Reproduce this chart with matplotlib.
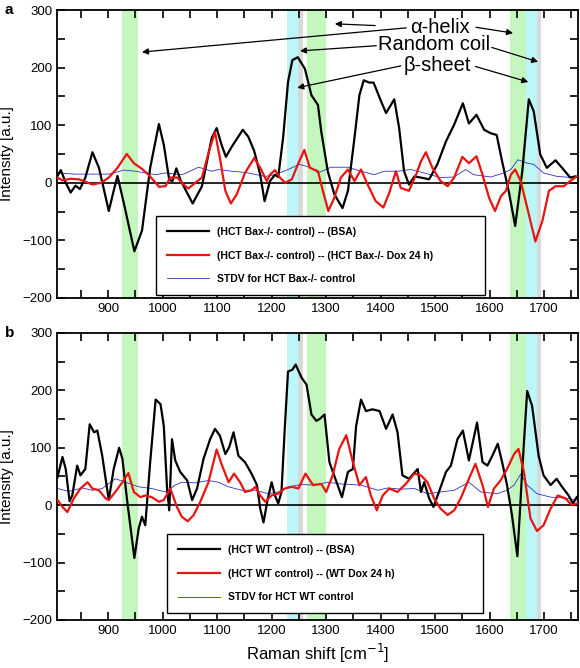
import matplotlib
matplotlib.use('Agg')
import matplotlib.pyplot as plt
from matplotlib.ticker import MultipleLocator

plt.rcParams['font.family'] = ['Liberation Sans', 'DejaVu Sans']

# ---- panel a : HCT Bax-/- ----
a_bsa_x = [807, 813, 822, 831, 840, 848, 858, 871, 883, 901, 910, 917, 929, 948, 962, 977, 993, 1002,
           1012, 1018, 1025, 1033, 1055, 1072, 1090, 1099, 1108, 1116, 1127, 1147, 1157, 1168, 1179, 1187,
           1197, 1206, 1212, 1221, 1230, 1238, 1248, 1261, 1273, 1285, 1291, 1303, 1315, 1330, 1340, 1352,
           1361, 1369, 1379, 1387, 1401, 1410, 1425, 1434, 1443, 1452, 1462, 1474, 1489, 1504, 1520, 1535,
           1551, 1562, 1576, 1590, 1602, 1613, 1623, 1635, 1647, 1660, 1672, 1681, 1693, 1705, 1721, 1733,
           1748, 1757]
a_bsa_y = [12, 22, 0, -17, -5, -11, 9, 53, 26, -49, -14, 12, -37, -119, -83, 26, 102, 66,
           5, 3, 25, 4, -36, -6, 78, 95, 66, 45, 63, 92, 80, 55, 14, -32,
           3, 14, 10, 78, 175, 213, 218, 198, 152, 135, 89, 20, -20, -44, -14, 78,
           152, 178, 174, 174, 141, 121, 145, 95, 20, -3, 11, 9, 6, 32, 72, 101,
           138, 103, 118, 92, 86, 83, 37, -14, -75, 20, 145, 124, 49, 26, 39, 26,
           9, 11]

a_dox_x = [807, 816, 831, 846, 855, 871, 887, 901, 917, 934, 947, 962, 974, 987, 993, 1005, 1014, 1027,
           1038, 1047, 1060, 1072, 1085, 1096, 1105, 1115, 1125, 1136, 1151, 1168, 1179, 1191, 1197, 1206,
           1215, 1225, 1237, 1249, 1260, 1270, 1285, 1294, 1304, 1315, 1327, 1340, 1352, 1364, 1376, 1391,
           1405, 1416, 1428, 1437, 1452, 1465, 1474, 1483, 1495, 1510, 1523, 1535, 1550, 1562, 1576, 1587,
           1599, 1610, 1621, 1630, 1639, 1647, 1657, 1669, 1684, 1697, 1709, 1721, 1736, 1748, 1760]
a_dox_y = [9, 4, 7, 6, 3, -3, 0, 9, 26, 50, 34, 24, 14, 0, -7, -6, 9, 9,
           -3, -10, 0, 9, 55, 88, 43, -14, -36, -20, 17, 43, 26, 3, 14, 22,
           9, 0, 6, 34, 57, 26, 20, -14, -49, -26, 9, 23, 3, 23, -3, -32,
           -43, -17, 20, -9, -14, 14, 37, 53, 26, 3, -6, 9, 45, 34, 46, 14,
           -26, -49, -23, -14, 14, 23, 3, -43, -102, -66, -14, -6, -6, 3, 11]

a_std_x = [807, 840, 870, 901, 929, 950, 987, 1005, 1036, 1066, 1090, 1102, 1127, 1151, 1188, 1206, 1230,
           1251, 1273, 1285, 1309, 1340, 1364, 1388, 1407, 1431, 1455, 1480, 1510, 1535, 1556, 1571, 1602,
           1626, 1639, 1652, 1669, 1681, 1699, 1724, 1754]
a_std_y = [17, 15, 15, 15, 22, 20, 14, 17, 14, 27, 20, 23, 20, 18, 11, 14, 23,
           32, 26, 17, 27, 27, 20, 14, 20, 20, 23, 17, 9, 10, 23, 14, 10,
           17, 23, 40, 34, 32, 17, 11, 9]

# ---- panel b : HCT WT ----
b_bsa_x = [807, 816, 822, 829, 834, 843, 849, 858, 866, 874, 880, 889, 901, 910, 920, 926, 935, 948, 956,
           962, 968, 977, 987, 996, 1002, 1008, 1012, 1017, 1023, 1032, 1045, 1054, 1063, 1075, 1087, 1096,
           1105, 1115, 1122, 1130, 1139, 1151, 1163, 1173, 1179, 1185, 1193, 1200, 1206, 1212, 1218, 1224,
           1230, 1238, 1244, 1255, 1264, 1273, 1282, 1288, 1297, 1306, 1318, 1329, 1340, 1349, 1355, 1364,
           1373, 1385, 1398, 1410, 1422, 1431, 1440, 1452, 1468, 1474, 1480, 1489, 1497, 1507, 1520, 1529,
           1541, 1551, 1562, 1577, 1587, 1596, 1605, 1615, 1623, 1632, 1641, 1651, 1660, 1669, 1678, 1690,
           1699, 1712, 1723, 1733, 1745, 1753, 1760]
b_bsa_y = [49, 84, 63, 7, 17, 69, 52, 63, 141, 127, 130, 86, 9, 63, 100, 81, 6, -92, -40,
           -20, -35, 75, 184, 176, 138, 29, -9, 115, 78, 58, 43, 9, 29, 81, 115, 133,
           121, 89, 101, 127, 86, 75, 55, 35, -6, -30, 12, 40, 17, 3, 23, 133,
           233, 236, 245, 222, 210, 158, 147, 150, 158, 75, 43, 14, 58, 63, 138, 184,
           164, 167, 164, 133, 158, 127, 52, 46, 63, 23, 40, 12, -3, 23, 58, 69,
           115, 130, 78, 144, 75, 69, 86, 107, 75, 35, -17, -89, 63, 199, 173, 86,
           52, 35, 46, 32, 17, 3, 14]

b_dox_x = [807, 816, 825, 837, 849, 862, 871, 883, 895, 901, 913, 926, 937, 947, 959, 968, 980, 993, 1002,
           1014, 1026, 1035, 1046, 1057, 1069, 1084, 1099, 1109, 1121, 1131, 1142, 1151, 1163, 1170, 1179,
           1188, 1200, 1212, 1224, 1237, 1249, 1262, 1276, 1291, 1300, 1312, 1324, 1337, 1349, 1361, 1373,
           1382, 1393, 1404, 1416, 1431, 1446, 1462, 1474, 1486, 1498, 1510, 1523, 1535, 1547, 1562, 1574,
           1587, 1597, 1608, 1620, 1632, 1645, 1653, 1663, 1675, 1687, 1699, 1712, 1725, 1739, 1751, 1760]
b_dox_y = [9, -3, -12, 12, 29, 40, 29, 26, 12, 9, 23, 40, 56, 23, 14, 17, 14, 6, 9,
           29, -3, -20, -28, -17, 6, 40, 97, 69, 40, 55, 40, 23, 26, 32, 17,
           6, 17, 20, 29, 32, 29, 55, 35, 37, 23, 52, 98, 122, 75, 35, 49,
           17, -9, 17, 29, 23, 37, 55, 52, 40, 12, -6, -17, -9, 12, 46, 72,
           35, -3, 29, 43, 63, 89, 98, 58, -23, -45, -35, -6, 17, 12, 0, 3]

b_std_x = [807, 828, 852, 871, 889, 913, 932, 956, 980, 1005, 1023, 1035, 1060, 1084, 1102, 1121, 1145,
           1170, 1194, 1212, 1230, 1255, 1279, 1303, 1327, 1364, 1395, 1413, 1437, 1462, 1486, 1510, 1535,
           1562, 1584, 1614, 1632, 1645, 1657, 1669, 1687, 1712, 1742, 1760]
b_std_y = [29, 24, 30, 26, 29, 46, 40, 32, 29, 23, 35, 40, 39, 43, 40, 32, 26,
           26, 20, 23, 32, 36, 35, 40, 37, 35, 26, 30, 28, 29, 20, 23, 26,
           40, 23, 20, 26, 35, 54, 35, 20, 14, 12, 9]

# shaded regions (start, end, colour)
bands = [(925, 955, '#c4f7bd'), (1228, 1249, '#bdf6f8'), (1249, 1257, '#d9d9d9'),
         (1265, 1300, '#c4f7bd'), (1637, 1667, '#c4f7bd'), (1667, 1687, '#bdf6f8'),
         (1687, 1695, '#d9d9d9')]

labels_a = ['(HCT Bax-/- control) -- (BSA)', '(HCT Bax-/- control) -- (HCT Bax-/- Dox 24 h)',
            'STDV for HCT Bax-/- control']
labels_b = ['(HCT WT control) -- (BSA)', '(HCT WT control) -- (WT Dox 24 h)',
            'STDV for HCT WT control']

fig = plt.figure(figsize=(5.8, 6.68), dpi=100)
ax1 = fig.add_axes([0.0983, 0.554, 0.898, 0.431])
ax2 = fig.add_axes([0.0983, 0.0719, 0.898, 0.4296])


def draw_panel(ax, bsa, dox, std, labels, leg_box):
    for x0, x1, c in bands:
        ax.axvspan(x0, x1, color=c, lw=0, zorder=0)
    ax.axhline(0, color='black', lw=1.2, zorder=1)
    l1, = ax.plot(bsa[0], bsa[1], color='black', lw=1.6, zorder=3, solid_joinstyle='round')
    l2, = ax.plot(dox[0], dox[1], color='#e8140f', lw=1.6, zorder=4, solid_joinstyle='round')
    l3, = ax.plot(std[0], std[1], color='#3030c0', lw=0.6, zorder=2)
    ax.set_xlim(806, 1762)
    ax.set_ylim(-200, 300)
    ax.xaxis.set_major_locator(MultipleLocator(100))
    ax.xaxis.set_minor_locator(MultipleLocator(50))
    ax.yaxis.set_major_locator(MultipleLocator(100))
    ax.yaxis.set_minor_locator(MultipleLocator(50))
    ax.tick_params(which='both', direction='in', top=True, right=True, labelsize=9.5, width=1.2, length=6)
    for s in ax.spines.values():
        s.set_linewidth(1.3)
    ax.set_ylabel('Intensity [a.u.]', fontsize=11)
    ax.yaxis.set_label_coords(-0.083, 0.5)
    leg = ax.legend([l1, l2, l3], labels, loc='lower left', bbox_to_anchor=leg_box, mode='expand',
                    prop={'weight': 'bold', 'size': 7.5}, frameon=True, fancybox=False,
                    edgecolor='black', framealpha=1, handlelength=4.0, handletextpad=0.8,
                    labelspacing=1.3, borderpad=1.05, borderaxespad=0)
    leg.get_frame().set_linewidth(1.0)


draw_panel(ax1, (a_bsa_x, a_bsa_y), (a_dox_x, a_dox_y), (a_std_x, a_std_y), labels_a,
           (0.19, 0.010, 0.631, 0.28))
draw_panel(ax2, (b_bsa_x, b_bsa_y), (b_dox_x, b_dox_y), (b_std_x, b_std_y), labels_b,
           (0.211, 0.024, 0.607, 0.28))
ax2.set_xlabel('Raman shift [cm$^{-1}$]', fontsize=12, labelpad=4)

# secondary structure annotations on panel a
ax1.text(1509, 270, '\u03b1-helix', fontsize=14.5, ha='center', va='center')
ax1.text(1498, 240, 'Random coil', fontsize=14.5, ha='center', va='center')
ax1.text(1505, 204, '\u03b2-sheet', fontsize=14.5, ha='center', va='center')
arrows = [((1447, 269), (962, 227)), ((1390, 273), (1316, 276)), ((1575, 270), (1643, 260)),
          ((1392, 238), (1252, 229)), ((1604, 235), (1689, 210)),
          ((1437, 203), (1247, 165)), ((1574, 202), (1671, 175))]
for start, end in arrows:
    ax1.annotate('', xy=end, xytext=start,
                 arrowprops=dict(arrowstyle='-|>', color='black', lw=0.9, mutation_scale=9,
                                 shrinkA=0, shrinkB=0))

fig.text(0.008, 1 - 10 / 668, 'a', fontsize=11, fontweight='bold', va='center')
fig.text(0.008, 1 - 333 / 668, 'b', fontsize=11, fontweight='bold', va='center')

fig.savefig('out.png', dpi=100)
